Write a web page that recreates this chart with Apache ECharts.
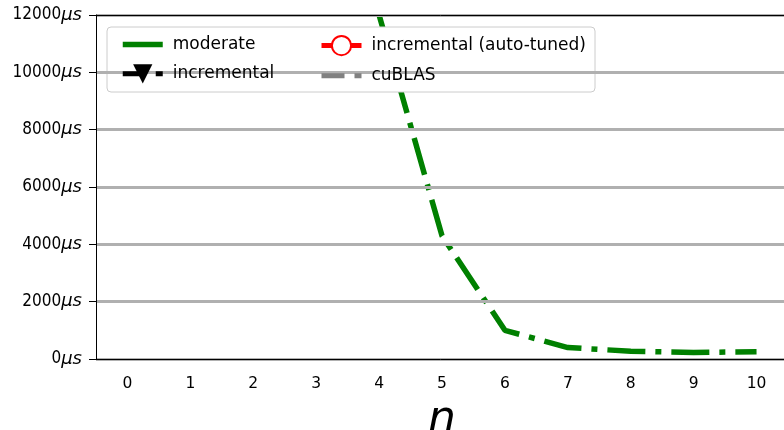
<!DOCTYPE html>
<html>
<head>
<meta charset="utf-8">
<script src="https://cdn.jsdelivr.net/npm/echarts@6/dist/echarts.min.js"></script>
<style>
  html, body { margin: 0; padding: 0; background: #fff; }
  #chart { width: 784px; height: 430px; }
</style>
</head>
<body>
<div id="chart"></div>
<script>
// n values on the x axis
const nValues = ["0", "1", "2", "3", "4", "5", "6", "7", "8", "9", "10"];
// timings in microseconds (null = not shown)
const moderate = [null, null, null, null, 12000, 4300, 1000, 400, 270, 230, 250];
const incremental = [];
const autoTuned = [];
const cublas = [];
const yTicks = [0, 2000, 4000, 6000, 8000, 10000, 12000];

const FONT = "DejaVu Sans";
const chart = echarts.init(document.getElementById("chart"));

const legendText = { fontSize: 17, fontFamily: FONT, color: "#000", padding: [0, 0, 0, 5] };

chart.setOption({
  animation: false,
  backgroundColor: "#fff",
  textStyle: { fontFamily: FONT, color: "#000" },
  grid: { left: 96, top: 15, bottom: 71, right: -4, outerBoundsMode: "none", containLabel: false },
  xAxis: [
    {
      type: "category",
      data: nValues,
      boundaryGap: true,
      name: "n",
      nameLocation: "middle",
      nameGap: 40,
      nameTextStyle: { fontSize: 44, fontStyle: "italic", fontFamily: FONT, color: "#000" },
      axisLine: { lineStyle: { color: "#000", width: 1 } },
      axisTick: { alignWithLabel: true, length: 7, lineStyle: { color: "#000" } },
      axisLabel: { fontSize: 15.5, color: "#000", margin: 17, fontFamily: FONT },
      splitLine: { show: false },
      z: 5
    },
    {
      type: "category",
      data: nValues,
      position: "top",
      axisLine: { lineStyle: { color: "#000", width: 1 } },
      axisTick: { show: false },
      axisLabel: { show: false },
      splitLine: { show: false },
      z: 5
    }
  ],
  yAxis: {
    type: "value",
    min: yTicks[0],
    max: yTicks[yTicks.length - 1],
    interval: 2000,
    axisLine: { show: true, lineStyle: { color: "#000", width: 1 } },
    axisTick: { show: true, length: 7, lineStyle: { color: "#000" } },
    axisLabel: {
      margin: 14,
      formatter: v => "{a|" + v + "}{b|μs}",
      rich: {
        a: { fontSize: 17, fontFamily: "DejaVu Sans Condensed", color: "#000" },
        b: { fontSize: 18, fontFamily: FONT, fontStyle: "italic", color: "#000" }
      }
    },
    splitLine: { show: true, lineStyle: { color: "#b0b0b0", width: 3 } },
    z: 5
  },
  legend: [
    {
      left: 115,
      top: 30,
      orient: "vertical",
      itemWidth: 40,
      itemHeight: 24,
      itemGap: 10,
      textStyle: legendText,
      lineStyle: { width: 5 },
      data: [
        { name: "moderate", lineStyle: { type: "solid", width: 5.5 }, itemStyle: { opacity: 0 } },
        { name: "incremental" }
      ],
      z: 6
    },
    {
      left: 314,
      top: 30,
      orient: "vertical",
      itemWidth: 40,
      itemHeight: 24,
      itemGap: 10,
      textStyle: legendText,
      lineStyle: { width: 5 },
      data: [
        { name: "incremental (auto-tuned)" },
        { name: "cuBLAS", itemStyle: { opacity: 0 } }
      ],
      z: 6
    }
  ],
  graphic: [
    {
      type: "rect",
      z: 5,
      shape: { x: 107, y: 27, width: 488, height: 65, r: 4 },
      style: { fill: "#fff", stroke: "#cccccc", lineWidth: 1 }
    }
  ],
  series: [
    {
      name: "moderate",
      type: "line",
      data: moderate,
      showSymbol: false,
      symbol: "none",
      connectNulls: false,
      color: "#008000",
      lineStyle: { color: "#008000", width: 5.5, type: [38, 10, 6, 10], cap: "butt" },
      z: 3
    },
    {
      name: "incremental",
      type: "line",
      data: incremental,
      symbol: "path://M0,0 L10,0 L5,11 Z",
      color: "#000",
      itemStyle: { color: "#000" },
      lineStyle: { color: "#000", width: 5, type: [23, 10], cap: "butt" }
    },
    {
      name: "incremental (auto-tuned)",
      type: "line",
      data: autoTuned,
      symbol: "emptyCircle",
      color: "#ff0000",
      itemStyle: { color: "#ff0000", borderWidth: 2 },
      lineStyle: { color: "#ff0000", width: 5 }
    },
    {
      name: "cuBLAS",
      type: "line",
      data: cublas,
      symbol: "none",
      color: "#808080",
      lineStyle: { color: "#808080", width: 5, type: [23, 10], cap: "butt" }
    }
  ]
});
</script>
</body>
</html>
